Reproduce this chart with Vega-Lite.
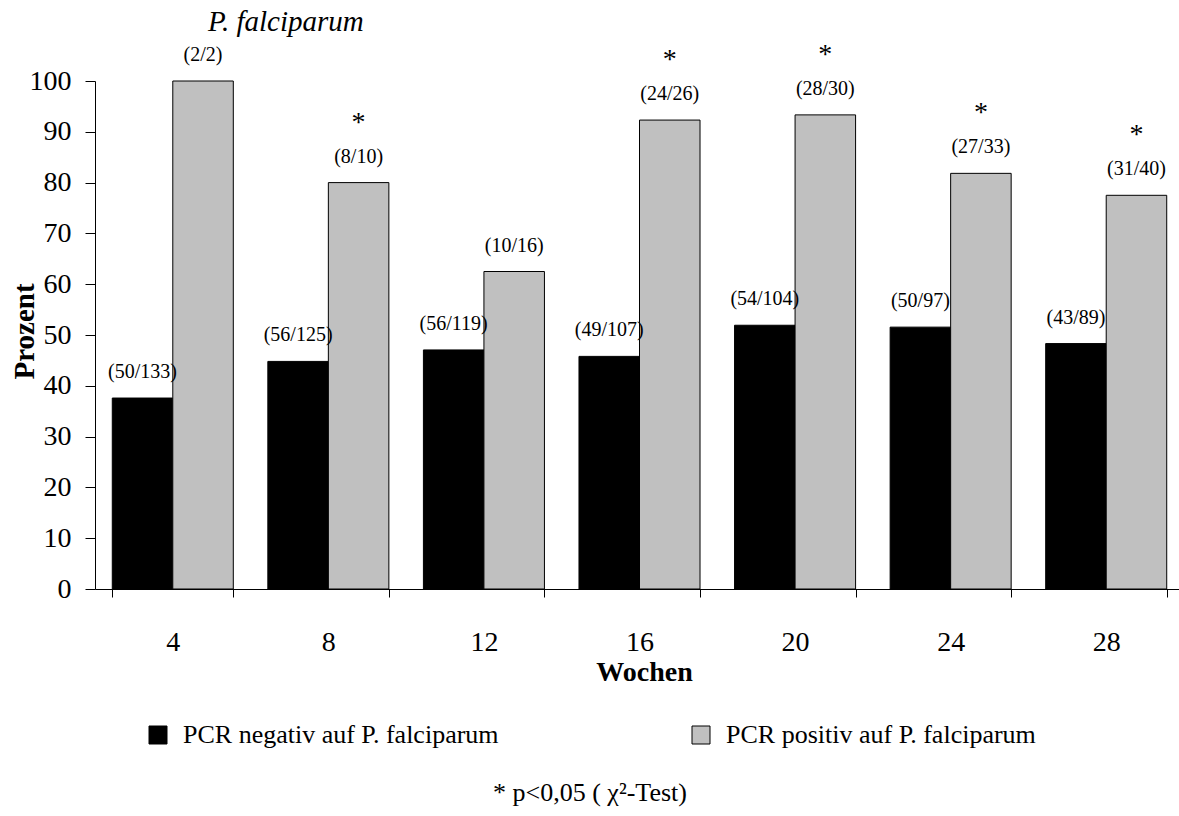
{
  "$schema": "https://vega.github.io/schema/vega-lite/v6.json",
  "autosize": {"type": "none"},
  "padding": {"left": 95, "top": 81, "right": 0, "bottom": 227},
  "width": 1089,
  "height": 508,
  "background": "white",
  "config": {
    "font": "Liberation Serif",
    "view": {"stroke": null},
    "axis": {"domainColor": "black", "tickColor": "black", "labelColor": "black", "titleColor": "black", "grid": false, "labelFont": "Liberation Serif", "titleFont": "Liberation Serif"},
    "legend": {"labelFont": "Liberation Serif", "titleFont": "Liberation Serif"}
  },
  "title": {
    "text": "P. falciparum",
    "anchor": "start",
    "frame": "group",
    "dx": 113,
    "offset": 4,
    "font": "Liberation Serif",
    "fontStyle": "italic",
    "fontWeight": "normal",
    "fontSize": 29,
    "color": "black"
  },
  "data": {
    "values": [
      {"week": 4, "group": "PCR negativ auf P. falciparum", "value": 37.59, "label": "(50/133)", "sig": false},
      {"week": 8, "group": "PCR negativ auf P. falciparum", "value": 44.8, "label": "(56/125)", "sig": false},
      {"week": 12, "group": "PCR negativ auf P. falciparum", "value": 47.06, "label": "(56/119)", "sig": false},
      {"week": 16, "group": "PCR negativ auf P. falciparum", "value": 45.79, "label": "(49/107)", "sig": false},
      {"week": 20, "group": "PCR negativ auf P. falciparum", "value": 51.92, "label": "(54/104)", "sig": false},
      {"week": 24, "group": "PCR negativ auf P. falciparum", "value": 51.55, "label": "(50/97)", "sig": false},
      {"week": 28, "group": "PCR negativ auf P. falciparum", "value": 48.31, "label": "(43/89)", "sig": false},
      {"week": 4, "group": "PCR positiv auf P. falciparum", "value": 100, "label": "(2/2)", "sig": false},
      {"week": 8, "group": "PCR positiv auf P. falciparum", "value": 80, "label": "(8/10)", "sig": true},
      {"week": 12, "group": "PCR positiv auf P. falciparum", "value": 62.5, "label": "(10/16)", "sig": false},
      {"week": 16, "group": "PCR positiv auf P. falciparum", "value": 92.31, "label": "(24/26)", "sig": true},
      {"week": 20, "group": "PCR positiv auf P. falciparum", "value": 93.33, "label": "(28/30)", "sig": true},
      {"week": 24, "group": "PCR positiv auf P. falciparum", "value": 81.82, "label": "(27/33)", "sig": true},
      {"week": 28, "group": "PCR positiv auf P. falciparum", "value": 77.5, "label": "(31/40)", "sig": true}
    ]
  },
  "encoding": {
    "x": {
      "field": "week",
      "type": "ordinal",
      "scale": {"paddingInner": 0.222, "paddingOuter": 0.111},
      "axis": {
        "title": "Wochen",
        "labelAngle": 0,
        "tickBand": "extent",
        "tickSize": 8,
        "labelPadding": 31,
        "labelFontSize": 28,
        "titleFontSize": 28,
        "titleFontWeight": "bold",
        "titleBaseline": "alphabetic",
        "titleX": 549,
        "titleY": 91
      }
    },
    "xOffset": {"field": "group", "type": "nominal", "scale": {"paddingInner": 0, "paddingOuter": 0}},
    "y": {
      "field": "value",
      "type": "quantitative",
      "scale": {"domain": [0, 100], "nice": false},
      "axis": {
        "title": "Prozent",
        "values": [0, 10, 20, 30, 40, 50, 60, 70, 80, 90, 100],
        "tickSize": 10,
        "labelPadding": 14,
        "labelFontSize": 28,
        "titleFontSize": 29,
        "titleFontWeight": "bold",
        "titleBaseline": "alphabetic",
        "titleX": -62,
        "titleY": 250,
        "titleAngle": 270
      }
    }
  },
  "layer": [
    {
      "mark": {"type": "bar", "stroke": "black", "strokeWidth": 1},
      "encoding": {
        "color": {
          "field": "group",
          "type": "nominal",
          "scale": {"domain": ["PCR negativ auf P. falciparum", "PCR positiv auf P. falciparum"], "range": ["#000000", "#c0c0c0"]},
          "legend": {
            "title": "* p<0,05 ( χ²-Test)",
            "orient": "none",
            "legendX": 50,
            "legendY": 641,
            "direction": "horizontal",
            "padding": 0,
            "columnPadding": 189,
            "symbolType": "square",
            "symbolSize": 324,
            "symbolStrokeColor": "black",
            "symbolStrokeWidth": 1,
            "symbolOpacity": 1,
            "labelFontSize": 26,
            "labelColor": "black",
            "labelLimit": 600,
            "labelOffset": 12,
            "titleOrient": "bottom",
            "titleAnchor": "middle",
            "titleFontSize": 26,
            "titleFontWeight": "normal",
            "titleColor": "black",
            "titlePadding": 32,
            "titleLimit": 800
          }
        }
      }
    },
    {
      "mark": {"type": "text", "fontSize": 20, "color": "black", "baseline": "middle", "dy": -26},
      "encoding": {"text": {"field": "label"}}
    },
    {
      "transform": [{"filter": "datum.sig"}],
      "mark": {"type": "text", "fontSize": 28, "color": "black", "baseline": "alphabetic", "dy": -52},
      "encoding": {"text": {"value": "*"}}
    }
  ]
}
